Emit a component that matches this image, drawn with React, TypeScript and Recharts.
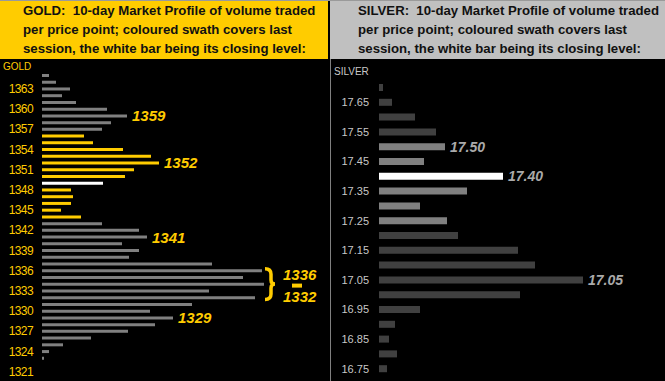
import { BarChart, Bar, XAxis, YAxis, Cell, LabelList, ReferenceArea } from "recharts";

// gold: price points (ascending) and 10-day volume at each
const goldPrices = [
  1321, 1322, 1323, 1324, 1325, 1326, 1327, 1328, 1329, 1330, 1331, 1332, 1333, 1334, 1335,
  1336, 1337, 1338, 1339, 1340, 1341, 1342, 1343, 1344, 1345, 1346, 1347, 1348, 1349, 1350,
  1351, 1352, 1353, 1354, 1355, 1356, 1357, 1358, 1359, 1360, 1361, 1362, 1363, 1364, 1365,
];
const goldVolume = [
  0, 0, 2, 7, 21, 49, 86, 113, 131, 108, 150, 213, 167, 222, 201,
  220, 170, 87, 97, 80, 105, 97, 60, 39, 19, 29, 31, 29, 61, 83,
  92, 117, 109, 81, 51, 42, 60, 69, 85, 65, 34, 20, 28, 14, 7,
];
const goldSwath = [1344, 1356];
const goldClose = 1349;
const goldNotes = [1359, 1352, 1341, 1329];
const goldRange = [1336, 1332];

// silver
const silverPrices = [
  "16.75", "16.80", "16.85", "16.90", "16.95", "17.00", "17.05", "17.10", "17.15", "17.20",
  "17.25", "17.30", "17.35", "17.40", "17.45", "17.50", "17.55", "17.60", "17.65", "17.70",
];
const silverVolume = [8, 18, 10, 16, 41, 141, 204, 156, 139, 79, 68, 41, 88, 124, 45, 66, 57, 36, 13, 4];
const silverSwath = [17.25, 17.5];
const silverClose = "17.40";
const silverNotes = ["17.50", "17.40", "17.05"];

const GOLD = "#FFCC00";
const FONT = "'Liberation Sans', Arial, sans-serif";

const goldData = goldPrices.map((p, i) => ({
  price: String(p),
  vol: goldVolume[i],
  note: goldNotes.includes(p) ? String(p) : "",
  fill:
    p === goldClose ? "#ffffff" : p >= goldSwath[0] && p <= goldSwath[1] ? GOLD : "#808080",
}));

const silverData = silverPrices.map((p, i) => {
  const v = parseFloat(p);
  return {
    price: p,
    vol: silverVolume[i],
    note: silverNotes.includes(p) ? p : "",
    fill:
      p === silverClose
        ? "#ffffff"
        : v >= silverSwath[0] - 0.001 && v <= silverSwath[1] + 0.001
        ? "#808080"
        : "#404040",
  };
});

const makeNote = (color: string, size: number) => (props: any) => {
  const vb = props.viewBox ?? props;
  if (!props.value) return null;
  return (
    <text
      x={vb.x + vb.width + 5}
      y={vb.y + vb.height / 2}
      dy="0.36em"
      fill={color}
      fontSize={size}
      fontWeight="bold"
      fontStyle="italic"
      fontFamily={FONT}
    >
      {props.value}
    </text>
  );
};

const renderBrace = (props: any) => {
  const { x, y, height } = props.viewBox;
  const mid = y + height / 2;
  const bot = y + height;
  const path = `M${x} ${y + 1.5} Q${x + 6} ${y + 1.5} ${x + 6} ${y + 7} L${x + 6} ${mid - 4} Q${x + 6} ${mid} ${x + 10} ${mid} Q${x + 6} ${mid} ${x + 6} ${mid + 4} L${x + 6} ${bot - 7} Q${x + 6} ${bot - 1.5} ${x} ${bot - 1.5}`;
  return (
    <g>
      <path d={path} stroke={GOLD} strokeWidth={3.5} fill="none" />
      <text x={x + 18} y={y + 7} dy="0.36em" fill={GOLD} fontSize={15} fontWeight="bold" fontStyle="italic" fontFamily={FONT}>
        {goldRange[0]}
      </text>
      <rect x={x + 27} y={mid - 0.5} width={10} height={4} fill={GOLD} />
      <text x={x + 18} y={bot - 4} dy="0.36em" fill={GOLD} fontSize={15} fontWeight="bold" fontStyle="italic" fontFamily={FONT}>
        {goldRange[1]}
      </text>
    </g>
  );
};

const headerText: React.CSSProperties = {
  position: "absolute",
  top: 0,
  height: 59,
  boxSizing: "border-box",
  paddingTop: 1,
  fontFamily: FONT,
  fontWeight: "bold",
  fontSize: 13.2,
  lineHeight: "19px",
  color: "#111",
  whiteSpace: "pre",
};

export default function App() {
  return (
    <div style={{ position: "fixed", left: 0, top: 0, width: 665, height: 381, background: "#000", overflow: "hidden" }}>
      <div style={{ ...headerText, left: 0, width: 328, background: GOLD, paddingLeft: 23 }}>
        {"GOLD:  10-day Market Profile of volume traded\nper price point; coloured swath covers last\nsession, the white bar being its closing level:"}
      </div>
      <div style={{ ...headerText, left: 330, width: 335, background: "#C0C0C0", paddingLeft: 28 }}>
        {"SILVER:  10-day Market Profile of volume traded\nper price point; coloured swath covers last\nsession, the white bar being its closing level:"}
      </div>
      <div style={{ position: "absolute", left: 0, top: 0, width: 665, height: 1, background: "#9a9a9a" }} />
      <div style={{ position: "absolute", left: 330, top: 59, width: 1, height: 322, background: "#808080" }} />

      <div style={{ position: "absolute", left: 3, top: 61, fontFamily: FONT, fontSize: 10, color: GOLD }}>GOLD</div>
      <div style={{ position: "absolute", left: 334, top: 66, fontFamily: FONT, fontSize: 10, color: "#c8c8c8" }}>SILVER</div>

      <div style={{ position: "absolute", left: 0, top: 0 }}>
        <BarChart
          width={328}
          height={381}
          data={goldData}
          layout="vertical"
          margin={{ top: 72, right: 0, bottom: 6, left: 0 }}
        >
          <XAxis type="number" hide domain={[0, 286]} allowDataOverflow />
          <YAxis
            type="category"
            dataKey="price"
            reversed
            width={42}
            interval={2}
            axisLine={false}
            tickLine={false}
            tickMargin={3}
            tick={{ fill: GOLD, fontSize: 12, fontFamily: FONT, letterSpacing: -0.6 }}
          />
          <Bar dataKey="vol" barSize={3} isAnimationActive={false}>
            {goldData.map((d) => (
              <Cell key={d.price} fill={d.fill} />
            ))}
            <LabelList dataKey="note" content={makeNote(GOLD, 15)} />
          </Bar>
          <ReferenceArea
            y1={String(goldRange[0])}
            y2={String(goldRange[1])}
            x1={223}
            x2={233}
            fill="none"
            fillOpacity={0}
            stroke="none"
            ifOverflow="visible"
            label={renderBrace}
          />
        </BarChart>
      </div>

      <div style={{ position: "absolute", left: 331, top: 0 }}>
        <BarChart
          width={334}
          height={381}
          data={silverData}
          layout="vertical"
          margin={{ top: 80, right: 0, bottom: 5, left: 0 }}
        >
          <XAxis type="number" hide domain={[0, 286]} allowDataOverflow />
          <YAxis
            type="category"
            dataKey="price"
            reversed
            width={48}
            interval={1}
            axisLine={false}
            tickLine={false}
            tickMargin={4}
            tick={{ fill: "#c8c8c8", fontSize: 11, fontFamily: FONT }}
          />
          <Bar dataKey="vol" barSize={7} isAnimationActive={false}>
            {silverData.map((d) => (
              <Cell key={d.price} fill={d.fill} />
            ))}
            <LabelList dataKey="note" content={makeNote("#aaaaaa", 14)} />
          </Bar>
        </BarChart>
      </div>
    </div>
  );
}
